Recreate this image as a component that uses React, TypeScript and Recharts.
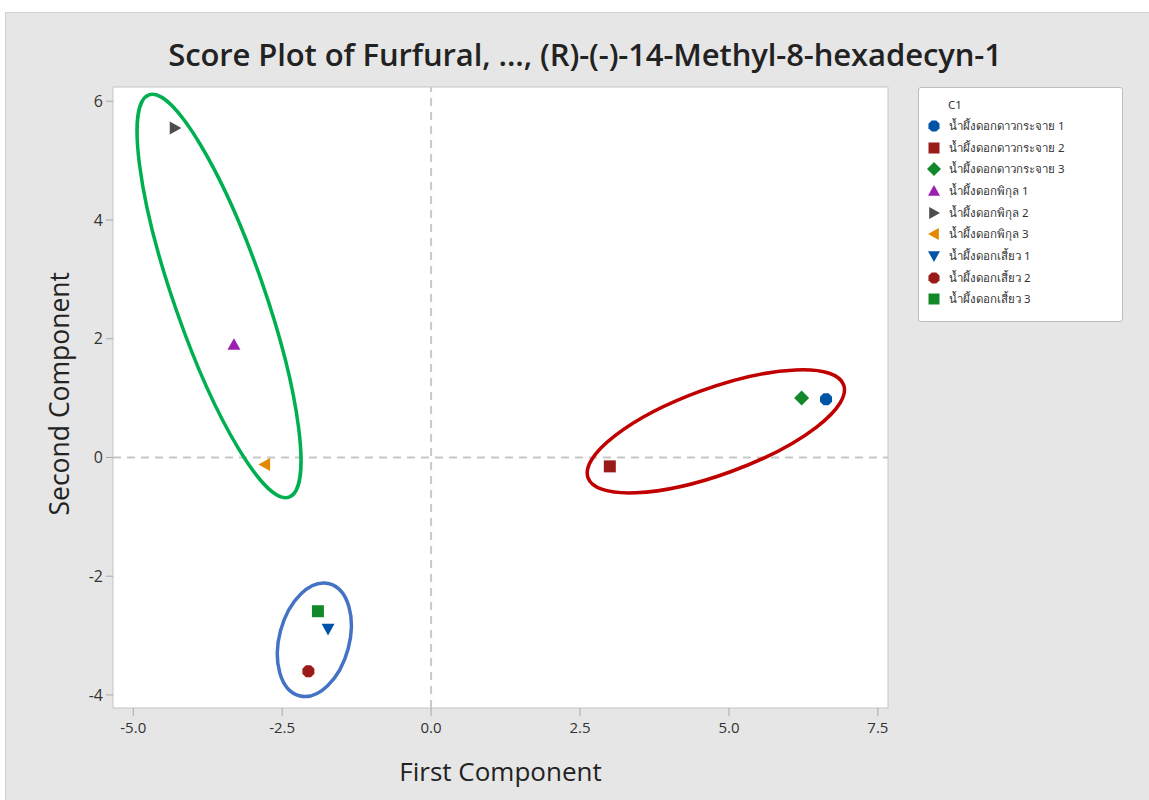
import React from 'react';
import { ScatterChart, Scatter, XAxis, YAxis, ReferenceLine, ReferenceArea, ReferenceDot } from 'recharts';

const X_TICKS = [-5, -2.5, 0, 2.5, 5, 7.5];
const Y_TICKS = [-4, -2, 0, 2, 4, 6];
const X_DOMAIN = [-5.34, 7.67];
const Y_DOMAIN = [-4.22, 6.24];

const groupNames = [
  'น้ำผึ้งดอกดาวกระจาย 1',
  'น้ำผึ้งดอกดาวกระจาย 2',
  'น้ำผึ้งดอกดาวกระจาย 3',
  'น้ำผึ้งดอกพิกุล 1',
  'น้ำผึ้งดอกพิกุล 2',
  'น้ำผึ้งดอกพิกุล 3',
  'น้ำผึ้งดอกเสี้ยว 1',
  'น้ำผึ้งดอกเสี้ยว 2',
  'น้ำผึ้งดอกเสี้ยว 3',
];
const firstComp = [6.63, 3.0, 6.22, -3.31, -4.3, -2.79, -1.73, -2.06, -1.9];
const secondComp = [0.98, -0.15, 1.0, 1.9, 5.55, -0.12, -2.89, -3.6, -2.59];
const markerColors = ['#0054a6', '#9b1b1b', '#12882a', '#9b1fb0', '#4d4d4d', '#e08a00', '#0054a6', '#9b1b1b', '#12882a'];
const markerShapes = ['hexagon', 'square', 'diamond', 'triUp', 'triRight', 'triLeft', 'triDown', 'hexagon', 'square'];

// hand-drawn group ellipses (centre in data units, radii in px, rotation in deg)
const ellipseCx = [-3.56, 4.78, -1.96];
const ellipseCy = [2.72, 0.44, -3.07];
const ellipseRx = [213, 136, 35];
const ellipseRy = [45, 43, 58];
const ellipseRot = [70.8, -20, 15];
const ellipseColors = ['#00b050', '#c00000', '#4472c4'];

const FONT = '"Open Sans", "Noto Sans", sans-serif';

const drawMarker = (kind: string, cx: number, cy: number, color: string, s = 6.5) => {
  let pts: number[][] = [];
  switch (kind) {
    case 'hexagon':
      pts = Array.from({ length: 8 }, (_, i) => {
        const a = (Math.PI / 4) * i + Math.PI / 8;
        return [cx + s * Math.cos(a), cy + s * Math.sin(a)];
      });
      break;
    case 'square':
      pts = [[cx - s + 0.5, cy - s + 0.5], [cx + s - 0.5, cy - s + 0.5], [cx + s - 0.5, cy + s - 0.5], [cx - s + 0.5, cy + s - 0.5]];
      break;
    case 'diamond':
      pts = [[cx, cy - s - 1], [cx + s + 1, cy], [cx, cy + s + 1], [cx - s - 1, cy]];
      break;
    case 'triUp':
      pts = [[cx, cy - s], [cx + s, cy + s * 0.8], [cx - s, cy + s * 0.8]];
      break;
    case 'triDown':
      pts = [[cx - s, cy - s * 0.8], [cx + s, cy - s * 0.8], [cx, cy + s]];
      break;
    case 'triRight':
      pts = [[cx - s * 0.8, cy - s], [cx + s, cy], [cx - s * 0.8, cy + s]];
      break;
    case 'triLeft':
      pts = [[cx + s * 0.8, cy - s], [cx - s, cy], [cx + s * 0.8, cy + s]];
      break;
  }
  return <polygon points={pts.map((p) => p.join(',')).join(' ')} fill={color} />;
};

const LegendBox = () => (
  <div
    style={{
      position: 'absolute',
      left: 918,
      top: 87,
      width: 205,
      height: 235,
      background: '#fff',
      border: '1px solid #bdbdbd',
      borderRadius: 3,
      boxSizing: 'border-box',
      fontFamily: '"Noto Sans", "DejaVu Sans", sans-serif',
      fontSize: 11.5,
      color: '#333',
      paddingTop: 6,
    }}
  >
    <div style={{ marginLeft: 29, height: 21, lineHeight: '21px' }}>C1</div>
    {groupNames.map((name, i) => (
      <div key={name} style={{ display: 'flex', alignItems: 'center', height: 21.7 }}>
        <svg width={30} height={16} style={{ flex: 'none' }}>
          {drawMarker(markerShapes[i], 15, 8, markerColors[i], 6)}
        </svg>
        <span style={{ whiteSpace: 'nowrap' }}>{name}</span>
      </div>
    ))}
  </div>
);

const App = () => {
  const series = groupNames.map((name, i) => ({
    name,
    data: [{ x: firstComp[i], y: secondComp[i] }],
    color: markerColors[i],
    shape: markerShapes[i],
  }));

  return (
    <div style={{ position: 'absolute', left: 0, top: 0, width: 1149, height: 800, background: '#fff' }}>
      <div style={{ position: 'absolute', left: 5, top: 12, width: 1144, height: 788, background: '#e6e6e6', borderTop: '1px solid #d0d0d0', borderLeft: '1px solid #d0d0d0', boxSizing: 'border-box' }} />
      <div
        style={{
          position: 'absolute',
          left: 0,
          top: 33,
          width: 1170,
          textAlign: 'center',
          fontFamily: FONT,
          fontSize: 31,
          fontWeight: 600,
          color: '#222',
          letterSpacing: -0.1,
        }}
      >
        Score Plot of Furfural, ..., (R)-(-)-14-Methyl-8-hexadecyn-1
      </div>
      <div style={{ position: 'absolute', left: 0, top: 0 }}>
        <ScatterChart width={1149} height={800} margin={{ top: 87, right: 261, left: 0, bottom: 0 }}>
          <ReferenceArea
            x1={X_DOMAIN[0]}
            x2={X_DOMAIN[1]}
            y1={Y_DOMAIN[0]}
            y2={Y_DOMAIN[1]}
            fill="#fff"
            fillOpacity={1}
            stroke="#c4c4c4"
            strokeWidth={1}
          />
          <XAxis
            type="number"
            dataKey="x"
            domain={X_DOMAIN}
            ticks={X_TICKS}
            tickFormatter={(v: number) => v.toFixed(1)}
            allowDataOverflow
            height={92}
            axisLine={false}
            tickLine={{ stroke: '#aaa' }}
            tickSize={8}
            tickMargin={6}
            tick={{ fill: '#333', fontSize: 15, fontFamily: FONT }}
            label={{ value: 'First Component', position: 'insideBottom', offset: 19, fill: '#222', fontSize: 26, fontFamily: FONT }}
          />
          <YAxis
            type="number"
            dataKey="y"
            domain={Y_DOMAIN}
            ticks={Y_TICKS}
            allowDataOverflow
            width={113}
            axisLine={false}
            tickLine={{ stroke: '#aaa' }}
            tickSize={7}
            tickMargin={3}
            tick={{ fill: '#333', fontSize: 16, fontFamily: FONT }}
            label={{ value: 'Second Component', angle: -90, position: 'insideLeft', offset: 60, dy: 118, fill: '#222', fontSize: 26.5, fontFamily: FONT }}
          />
          <ReferenceLine x={0} stroke="#c8c8c8" strokeWidth={2} strokeDasharray="8 6" />
          <ReferenceLine y={0} stroke="#c8c8c8" strokeWidth={2} strokeDasharray="8 6" />
          {series.map((s) => (
            <Scatter
              key={s.name}
              name={s.name}
              data={s.data}
              fill={s.color}
              isAnimationActive={false}
              shape={(p: any) => drawMarker(s.shape, p.cx, p.cy, s.color)}
            />
          ))}
          {ellipseCx.map((cx, i) => (
            <ReferenceDot
              key={`ell-${i}`}
              x={cx}
              y={ellipseCy[i]}
              ifOverflow="visible"
              shape={(p: any) => (
                <ellipse
                  cx={p.cx}
                  cy={p.cy}
                  rx={ellipseRx[i]}
                  ry={ellipseRy[i]}
                  transform={`rotate(${ellipseRot[i]} ${p.cx} ${p.cy})`}
                  fill="none"
                  stroke={ellipseColors[i]}
                  strokeWidth={3.5}
                />
              )}
            />
          ))}
        </ScatterChart>
      </div>
      <LegendBox />
    </div>
  );
};

export default App;
